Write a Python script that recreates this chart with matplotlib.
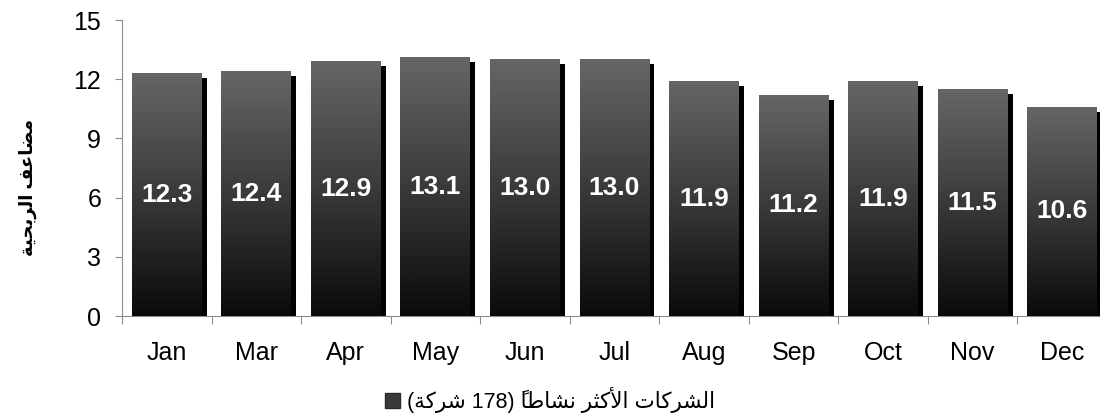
import matplotlib
matplotlib.use("Agg")
import matplotlib.pyplot as plt
import matplotlib.patheffects as pe
from matplotlib.colors import LinearSegmentedColormap
from matplotlib.patches import Patch
import numpy as np

months = ["Jan", "Mar", "Apr", "May", "Jun", "Jul", "Aug", "Sep", "Oct", "Nov", "Dec"]
pe_values = [12.3, 12.4, 12.9, 13.1, 13.0, 13.0, 11.9, 11.2, 11.9, 11.5, 10.6]
y_ticks = [0, 3, 6, 9, 12, 15]
y_label = "مضاعف الربحية"
legend_label = "الشركات الأكثر نشاطاً (178 شركة)"

# --- minimal arabic shaping + rtl ordering (matplotlib has no text shaping) ---
# isolated, final, initial, medial presentation forms
FORMS = {
    "\u0627": ("\uFE8D", "\uFE8E", None, None),
    "\u0623": ("\uFE83", "\uFE84", None, None),
    "\u0628": ("\uFE8F", "\uFE90", "\uFE91", "\uFE92"),
    "\u0629": ("\uFE93", "\uFE94", None, None),
    "\u062A": ("\uFE95", "\uFE96", "\uFE97", "\uFE98"),
    "\u062B": ("\uFE99", "\uFE9A", "\uFE9B", "\uFE9C"),
    "\u062D": ("\uFEA1", "\uFEA2", "\uFEA3", "\uFEA4"),
    "\u0631": ("\uFEAD", "\uFEAE", None, None),
    "\u0634": ("\uFEB5", "\uFEB6", "\uFEB7", "\uFEB8"),
    "\u0636": ("\uFEBD", "\uFEBE", "\uFEBF", "\uFEC0"),
    "\u0637": ("\uFEC1", "\uFEC2", "\uFEC3", "\uFEC4"),
    "\u0639": ("\uFEC9", "\uFECA", "\uFECB", "\uFECC"),
    "\u0641": ("\uFED1", "\uFED2", "\uFED3", "\uFED4"),
    "\u0643": ("\uFED9", "\uFEDA", "\uFEDB", "\uFEDC"),
    "\u0644": ("\uFEDD", "\uFEDE", "\uFEDF", "\uFEE0"),
    "\u0645": ("\uFEE1", "\uFEE2", "\uFEE3", "\uFEE4"),
    "\u0646": ("\uFEE5", "\uFEE6", "\uFEE7", "\uFEE8"),
    "\u064A": ("\uFEF1", "\uFEF2", "\uFEF3", "\uFEF4"),
}
LAM_ALEF = {"\u0627": ("\uFEFB", "\uFEFC"), "\u0623": ("\uFEF7", "\uFEF8")}
MIRROR = {"(": ")", ")": "("}


def is_mark(c):
    return "\u064B" <= c <= "\u0652"


def arabic(text):
    units = []
    for c in text:
        if is_mark(c) and units:
            units[-1][1] += c
        elif units and units[-1][0] == "\u0644" and c in LAM_ALEF and not units[-1][1]:
            units[-1][0] = "\u0644" + c
        else:
            units.append([c, ""])
    shaped = []
    for k, (base, marks) in enumerate(units):
        prev = units[k - 1][0] if k > 0 else ""
        nxt = units[k + 1][0] if k + 1 < len(units) else ""
        joins_prev = prev[-1:] in FORMS and FORMS[prev[-1]][2] is not None
        if len(base) == 2:
            glyph = LAM_ALEF[base[1]][1 if joins_prev else 0]
        elif base in FORMS:
            iso, fin, ini, med = FORMS[base]
            joins_next = ini is not None and nxt[:1] in FORMS
            if joins_prev and joins_next:
                glyph = med
            elif joins_prev:
                glyph = fin
            elif joins_next:
                glyph = ini
            else:
                glyph = iso
        else:
            glyph = MIRROR.get(base, base)
        shaped.append((glyph, marks))
    shaped.reverse()
    # put runs of digits back in left-to-right order
    out, run = [], []
    for g in shaped + [(" ", "")]:
        if g[0].isdigit():
            run.append(g)
            continue
        out.extend(reversed(run))
        run = []
        out.append(g)
    out = out[:-1]
    # zero-width marks sit over the glyph that follows them here
    return "".join(m + g for g, m in out)


plt.rcParams["font.family"] = ["Liberation Sans", "DejaVu Sans"]
ar_font = ["Liberation Sans", "DejaVu Sans"]

fig = plt.figure(figsize=(11, 4.2), dpi=100)
ax = fig.add_axes([122 / 1100, 104 / 420, 985 / 1100, 296 / 420])

x = np.arange(len(months))
grad_cmap = LinearSegmentedColormap.from_list("bar", ["#0a0a0a", "#3a3a3a", "#666666"])
gradient = np.linspace(0, 1, 256).reshape(-1, 1)

bars = ax.bar(x, pe_values, width=0.78, color="#404040", zorder=2,
              path_effects=[pe.SimplePatchShadow(offset=(3.6, -3.6), shadow_rgbFace="black", alpha=1.0),
                            pe.Normal()])
for bar in bars:
    x0, w, h = bar.get_x(), bar.get_width(), bar.get_height()
    im = ax.imshow(gradient, extent=(x0, x0 + w, 0, h), origin="lower", aspect="auto",
                   cmap=grad_cmap, zorder=3)
    im.set_clip_path(bar)
    ax.text(x0 + w / 2, h / 2, f"{h:.1f}", ha="center", va="center", color="white",
            fontsize=19, fontweight="bold", zorder=4)

ax.set_xlim(-0.5, len(months) - 0.5)
ax.set_ylim(0, 15)
ax.set_yticks(y_ticks)
ax.set_xticks(np.arange(-0.5, len(months), 1))
ax.set_xticklabels([])
ax.set_xticks(x, minor=True)
ax.set_xticklabels(months, minor=True)

axis_grey = "#8c8c8c"
for side in ["top", "right"]:
    ax.spines[side].set_visible(False)
for side in ["left", "bottom"]:
    ax.spines[side].set_color(axis_grey)
ax.tick_params(axis="y", which="major", direction="out", length=5, color=axis_grey,
               labelsize=18, pad=10)
ax.tick_params(axis="x", which="major", direction="out", length=6, color=axis_grey)
ax.tick_params(axis="x", which="minor", length=0, labelsize=18, pad=18)

fig.text(28 / 1100, 1 - 187 / 420, arabic(y_label), rotation=90, ha="center", va="center",
         fontsize=13, fontweight="bold", family=ar_font)

fig.legend(handles=[Patch(facecolor="#3a3a3a", edgecolor="#2a2a2a")], labels=[arabic(legend_label)],
           loc="center", bbox_to_anchor=(0.5, 1 - 400 / 420), frameon=False,
           handlelength=0.7, handleheight=0.7, handletextpad=0.3,
           prop={"family": ar_font, "size": 15.5})

fig.savefig("out.png", dpi=100)
